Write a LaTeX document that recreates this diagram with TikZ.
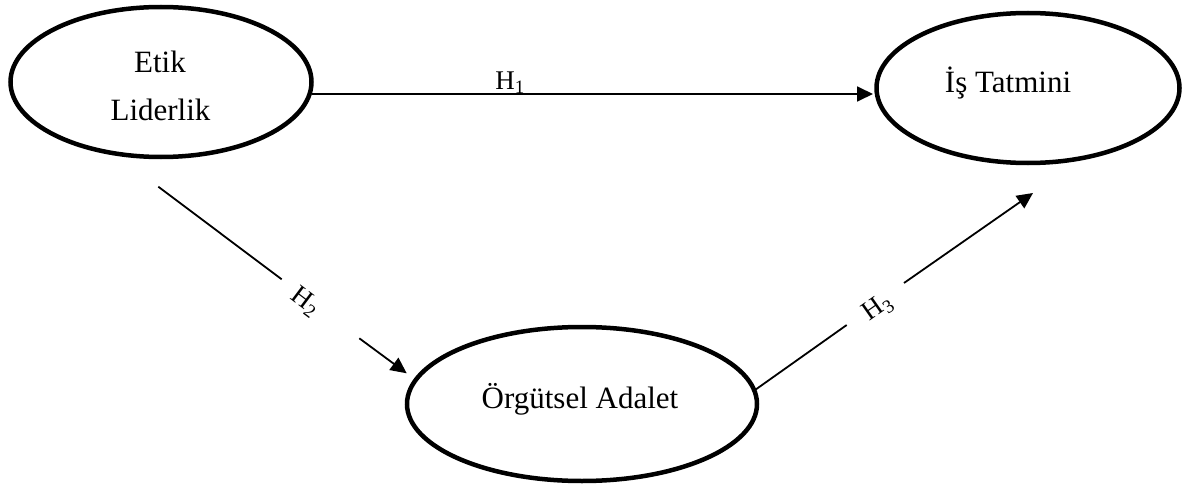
\documentclass[tikz,border=0pt]{standalone}
\usepackage{fontspec}
\setmainfont{Liberation Serif}
\usetikzlibrary{shapes.geometric,arrows.meta}
\begin{document}
\begin{tikzpicture}[x=1pt,y=-1pt,
  construct/.style={draw, ellipse, line width=4.5pt, inner sep=0pt},
  ctext/.style={anchor=base, inner sep=0pt, font=\fontsize{31}{37}\selectfont},
  hyp/.style={inner sep=0pt, font=\fontsize{27}{32}\selectfont},
  link/.style={line width=1.8pt},
  arrowlink/.style={link, -{Triangle[length=16pt,width=15pt]}}]
\useasboundingbox (0,0) rectangle (1195,495);

% constructs
\node[construct, minimum width=301pt, minimum height=150pt] (etik) at (161,82) {};
\node[construct, minimum width=303pt, minimum height=150pt] (tatmin) at (1028,88) {};
\node[construct, minimum width=350pt, minimum height=154pt] (adalet) at (582,404) {};

\node[ctext] (etikA) at (160,72.7) {Etik};
\node[ctext] (etikB) at (160.5,120.7) {Liderlik};
\node[ctext] (tatminT) at (1008,92.7) {İş Tatmini};
\node[ctext] (adaletT) at (580,408.3) {Örgütsel Adalet};

% H1: direct path
\coordinate (h1s) at (312,94);
\coordinate (h1e) at (873,94);
\draw[arrowlink] (h1s) -- (h1e);
\node[hyp, anchor=base] (h1) at (510,89.3) {H\textsubscript{1}};

% H2: leadership -> justice
\coordinate (h2a) at (158.3,186.7);
\coordinate (h2b) at (281.7,279.3);
\coordinate (h2c) at (359.3,338.3);
\coordinate (h2d) at (406.7,373.3);
\draw[link] (h2a) -- (h2b);
\draw[arrowlink] (h2c) -- (h2d);
\node[hyp, rotate=-37] (h2) at (305,302) {H\textsubscript{2}};

% H3: justice -> satisfaction
\coordinate (h3a) at (755,390);
\coordinate (h3b) at (846.7,325);
\coordinate (h3c) at (904,283);
\coordinate (h3d) at (1033,193);
\draw[link] (h3a) -- (h3b);
\draw[arrowlink] (h3c) -- (h3d);
\node[hyp, rotate=35] (h3) at (878,308) {H\textsubscript{3}};
\end{tikzpicture}
\end{document}
